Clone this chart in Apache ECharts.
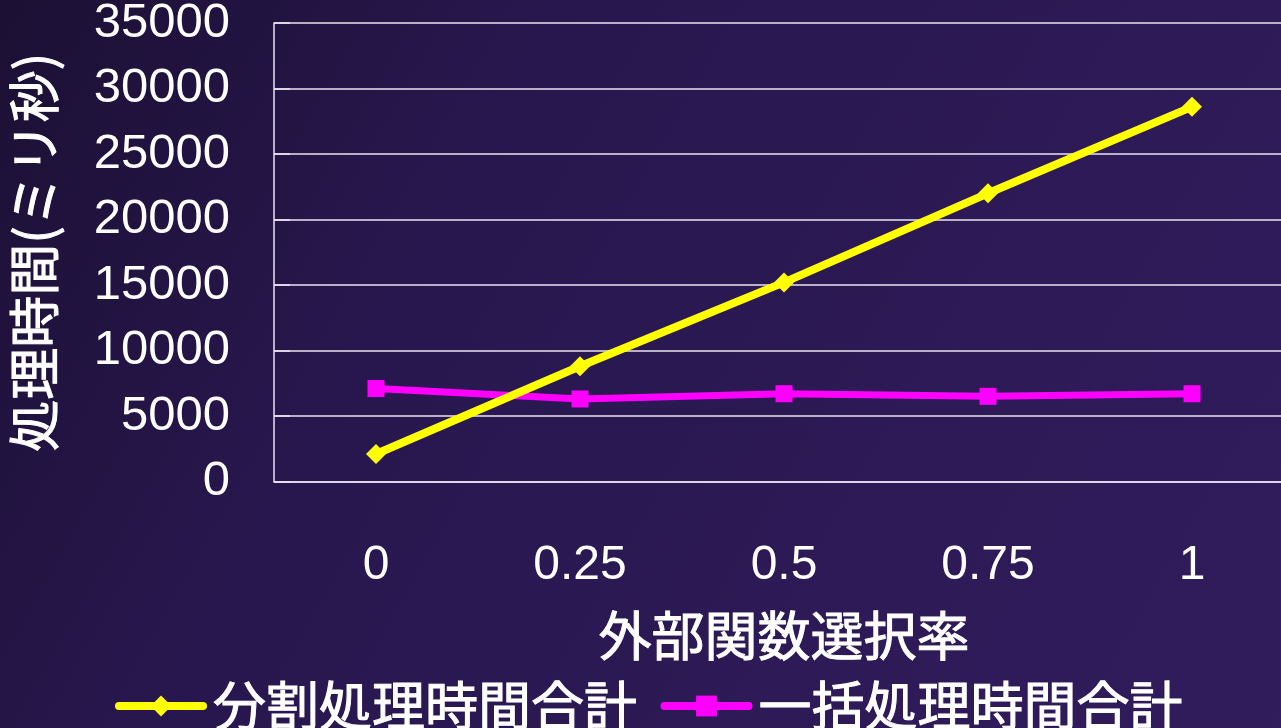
<!DOCTYPE html>
<html>
<head>
<meta charset="utf-8">
<script src="https://cdn.jsdelivr.net/npm/echarts@6/dist/echarts.min.js"></script>
<style>
  html, body { margin: 0; padding: 0; }
  #chart { width: 1281px; height: 728px; }
</style>
</head>
<body>
<div id="chart"></div>
<script>
// 外部関数選択率
const categories = ['0', '0.25', '0.5', '0.75', '1'];
// 分割処理時間合計 (ms)
const splitTotal = [2100, 8800, 15200, 22000, 28600];
// 一括処理時間合計 (ms)
const batchTotal = [7100, 6300, 6700, 6500, 6700];

const cjk = '"Noto Sans CJK JP", sans-serif';
const latin = '"Liberation Sans", Arial, sans-serif';

// slightly heavier than the regular CJK face
const cjkText = (size) => ({
  color: '#ffffff', fontSize: size, fontFamily: cjk,
  textBorderColor: '#ffffff', textBorderWidth: 1,
});

const chart = echarts.init(document.getElementById('chart'));

const option = {
  animation: false,
  backgroundColor: {
    type: 'linear', x: 0, y: 0, x2: 1, y2: 1,
    colorStops: [
      { offset: 0, color: '#1c1034' },
      { offset: 0.35, color: '#28174f' },
      { offset: 1, color: '#311c5c' },
    ],
  },
  // plot runs past the right edge of the canvas, like the original slide
  grid: { left: 274, width: 1020, top: 23, height: 458.5, outerBoundsMode: 'none', containLabel: false },
  legend: {
    top: 674,
    left: 110,
    itemWidth: 84,
    itemHeight: 26,
    itemGap: 23,
    textStyle: { ...cjkText(53), padding: [0, 0, 0, 5] },
    data: [
      { name: '分割処理時間合計', lineStyle: { width: 8, cap: 'round' } },
      { name: '一括処理時間合計', lineStyle: { width: 8, cap: 'round' } },
    ],
  },
  xAxis: {
    type: 'category',
    data: categories,
    name: '外部関数選択率',
    nameLocation: 'middle',
    nameGap: 128,
    nameTextStyle: cjkText(53),
    axisLine: { lineStyle: { color: '#e8e4f0', width: 1.5 } },
    axisTick: { inside: true, length: 16, lineStyle: { color: '#e8e4f0', width: 1.5 } },
    axisLabel: { color: '#ffffff', fontSize: 48, fontFamily: latin, margin: 60 },
  },
  yAxis: {
    type: 'value',
    min: 0,
    max: 35000,
    interval: 5000,
    name: '処理時間(ミリ秒)',
    nameLocation: 'middle',
    nameGap: 214,
    nameTextStyle: cjkText(52),
    axisLine: { show: true, lineStyle: { color: '#e8e4f0', width: 1.5 } },
    axisTick: { show: true, inside: true, length: 16, lineStyle: { color: '#e8e4f0', width: 1.5 } },
    axisLabel: {
      color: '#ffffff', fontSize: 49, fontFamily: latin, margin: 44,
      padding: [10, 0, 0, 0],
      formatter: v => String(v),
    },
    splitLine: { lineStyle: { color: '#e8e4f0', width: 1.5 } },
  },
  series: [
    {
      name: '分割処理時間合計',
      type: 'line',
      data: splitTotal,
      symbol: 'diamond',
      symbolSize: 20,
      itemStyle: { color: '#ffff00' },
      lineStyle: { color: '#ffff00', width: 8 },
      z: 3,
    },
    {
      name: '一括処理時間合計',
      type: 'line',
      data: batchTotal,
      symbol: 'rect',
      symbolSize: 17,
      itemStyle: { color: '#ff00ff' },
      lineStyle: { color: '#ff00ff', width: 7 },
      z: 2,
    },
  ],
};

chart.setOption(option);
</script>
</body>
</html>
